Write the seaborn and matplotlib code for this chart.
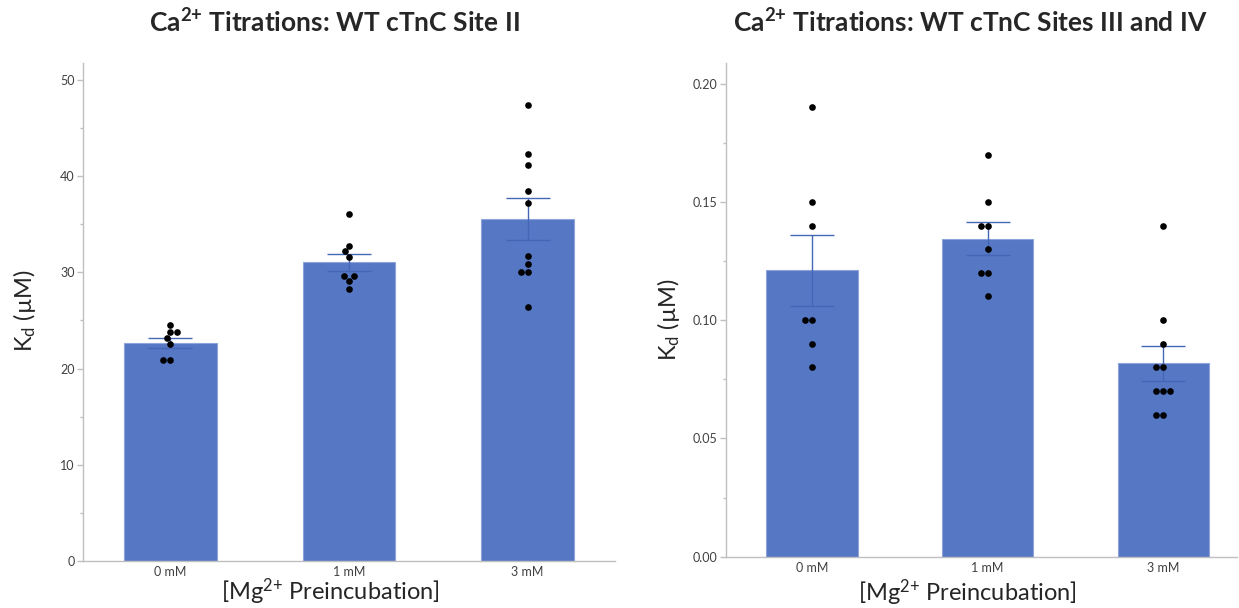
import numpy as np
import pandas as pd
import matplotlib
matplotlib.use("Agg")
import matplotlib.pyplot as plt
import seaborn as sns
from matplotlib.ticker import MultipleLocator, FormatStrFormatter

# categories
doses = ["0 mM", "1 mM", "3 mM"]

# Site II Kd (uM) individual points
site2_0 = [24.5, 23.8, 23.8, 23.2, 22.6, 20.9, 20.9]
site2_1 = [36.1, 32.8, 32.2, 31.6, 29.6, 29.6, 29.1, 28.3]
site2_3 = [47.4, 42.3, 41.2, 38.5, 37.2, 31.7, 30.9, 30.0, 30.0, 26.4]
site2_mean = [22.65, 31.05, 35.55]
site2_sem = [0.5, 0.88, 2.15]

# Sites III and IV Kd (uM) individual points
site34_0 = [0.19, 0.15, 0.14, 0.10, 0.10, 0.09, 0.08]
site34_1 = [0.17, 0.15, 0.14, 0.14, 0.13, 0.12, 0.12, 0.11]
site34_3 = [0.14, 0.10, 0.09, 0.08, 0.08, 0.07, 0.07, 0.07, 0.06, 0.06]
site34_mean = [0.121, 0.1345, 0.0817]
site34_sem = [0.0149, 0.0068, 0.0075]

sns.set_style("white")
plt.rcParams['font.family'] = ['Lato', 'DejaVu Sans']
plt.rcParams['mathtext.default'] = 'regular'

bar_col = "#5677c4"
edge_col = "#8fa3dc"
err_col = "#4566b5"
axis_col = "#bfbfbf"
tick_txt = "#404040"


def long_df(groups):
    rows = []
    for d, vals in zip(doses, groups):
        for v in vals:
            rows.append({"dose": d, "kd": v})
    return pd.DataFrame(rows)


def draw(ax, groups, means, sems):
    df_bar = pd.DataFrame({"dose": doses, "kd": means})
    sns.barplot(data=df_bar, x="dose", y="kd", order=doses, color=bar_col,
                width=0.52, edgecolor=edge_col, linewidth=0.8, saturation=1,
                errorbar=None, ax=ax, zorder=1)
    ax.errorbar(np.arange(len(doses)), means, yerr=sems, fmt="none",
                ecolor=err_col, elinewidth=1.0, capsize=16, capthick=1.0, zorder=2)
    sns.swarmplot(data=long_df(groups), x="dose", y="kd", order=doses,
                  color="black", size=4.8, ax=ax, zorder=3)
    ax.set_xlabel("")
    ax.set_ylabel("")
    sns.despine(ax=ax)
    for s in ["left", "bottom"]:
        ax.spines[s].set_color(axis_col)
        ax.spines[s].set_linewidth(1.0)
    ax.tick_params(axis="y", which="major", direction="out", length=4, width=1,
                   color=axis_col, labelsize=9, labelcolor=tick_txt, pad=2, left=True)
    ax.tick_params(axis="y", which="minor", direction="out", length=2, width=1,
                   color=axis_col, left=True)
    ax.tick_params(axis="x", length=0, labelsize=9, labelcolor=tick_txt, pad=4)


fig = plt.figure(figsize=(12.39, 6.08), dpi=100)
ax1 = fig.add_axes([83 / 1239, 47.3 / 608, 532 / 1239, 497.7 / 608])
ax2 = fig.add_axes([726 / 1239, 51.3 / 608, 511 / 1239, 493.7 / 608])

draw(ax1, [site2_0, site2_1, site2_3], site2_mean, site2_sem)
ax1.set_ylim(0, 51.8)
ax1.set_xlim(-0.49, 2.49)
ax1.yaxis.set_major_locator(MultipleLocator(10))
ax1.yaxis.set_minor_locator(MultipleLocator(5))

draw(ax2, [site34_0, site34_1, site34_3], site34_mean, site34_sem)
ax2.set_ylim(0, 0.2087)
ax2.set_xlim(-0.49, 2.42)
ax2.yaxis.set_major_locator(MultipleLocator(0.05))
ax2.yaxis.set_minor_locator(MultipleLocator(0.025))
ax2.yaxis.set_major_formatter(FormatStrFormatter('%.2f'))

fig.text(334 / 1239, 1 - 22 / 608, r"Ca$^{2{+}}$ Titrations: WT cTnC Site II",
         ha="center", va="center", fontsize=19, fontweight="bold")
fig.text(970 / 1239, 1 - 22 / 608, r"Ca$^{2{+}}$ Titrations: WT cTnC Sites III and IV",
         ha="center", va="center", fontsize=19, fontweight="bold")

fig.text(330 / 1239, 1 - 592 / 608, r"[Mg$^{2{+}}$ Preincubation]",
         ha="center", va="center", fontsize=17)
fig.text(967 / 1239, 1 - 593 / 608, r"[Mg$^{2{+}}$ Preincubation]",
         ha="center", va="center", fontsize=17)

fig.text(24 / 1239, 1 - 311 / 608, r"K$_{d}$ (µM)", rotation=90,
         ha="center", va="center", fontsize=17)
fig.text(668 / 1239, 1 - 320 / 608, r"K$_{d}$ (µM)", rotation=90,
         ha="center", va="center", fontsize=17)

fig.savefig("out.png", dpi=100)
